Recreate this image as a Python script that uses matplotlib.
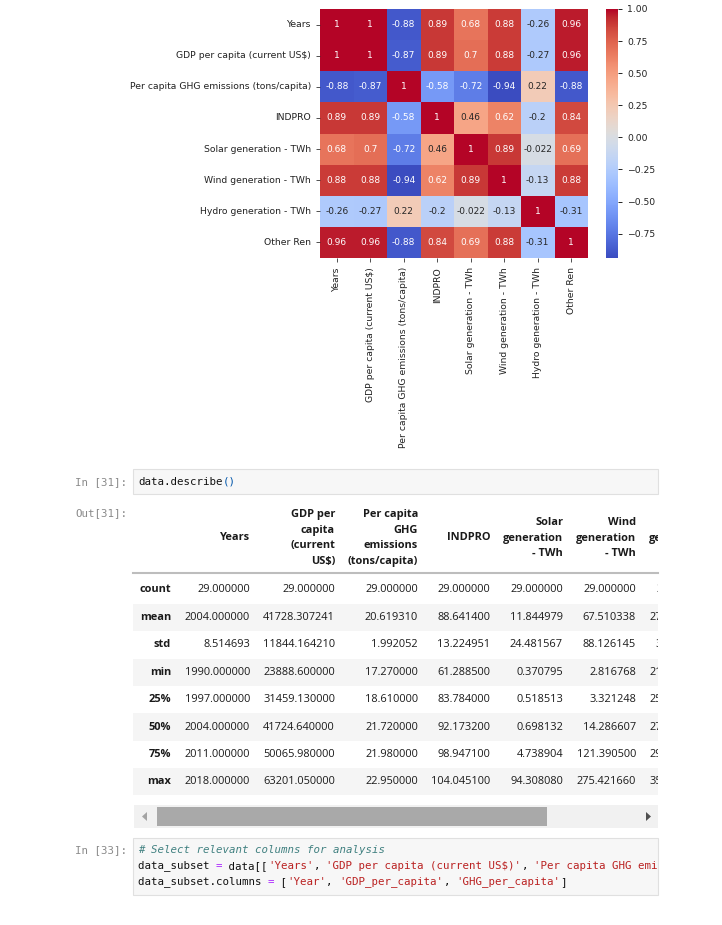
import matplotlib
matplotlib.use('Agg')
import matplotlib.pyplot as plt
import numpy as np
import pandas as pd
import seaborn as sns
from matplotlib.patches import Rectangle, Polygon
from matplotlib.transforms import Bbox, TransformedBbox

# ---------------- data ----------------
corr_labels = ['Years', 'GDP per capita (current US$)', 'Per capita GHG emissions (tons/capita)',
               'INDPRO', 'Solar generation - TWh', 'Wind generation - TWh',
               'Hydro generation - TWh', 'Other Ren']
corr_years = [1, 1, -0.88, 0.89, 0.68, 0.88, -0.26, 0.96]
corr_gdp = [1, 1, -0.87, 0.89, 0.7, 0.88, -0.27, 0.96]
corr_ghg = [-0.88, -0.87, 1, -0.58, -0.72, -0.94, 0.22, -0.88]
corr_indpro = [0.89, 0.89, -0.58, 1, 0.46, 0.62, -0.2, 0.84]
corr_solar = [0.68, 0.7, -0.72, 0.46, 1, 0.89, -0.022, 0.69]
corr_wind = [0.88, 0.88, -0.94, 0.62, 0.89, 1, -0.13, 0.88]
corr_hydro = [-0.26, -0.27, 0.22, -0.2, -0.022, -0.13, 1, -0.31]
corr_other = [0.96, 0.96, -0.88, 0.84, 0.69, 0.88, -0.31, 1]

stat_index = ['count', 'mean', 'std', 'min', '25%', '50%', '75%', 'max']
table_headers = [['Years'], ['GDP per', 'capita', '(current', 'US$)'],
                 ['Per capita', 'GHG', 'emissions', '(tons/capita)'], ['INDPRO'],
                 ['Solar', 'generation', '- TWh'], ['Wind', 'generation', '- TWh'],
                 ['Hydro', 'generation', '- TWh']]
col_years = [29.0, 2004.0, 8.514693, 1990.0, 1997.0, 2004.0, 2011.0, 2018.0]
col_gdp = [29.0, 41728.307241, 11844.164210, 23888.6, 31459.13, 41724.64, 50065.98, 63201.05]
col_ghg = [29.0, 20.619310, 1.992052, 17.27, 18.61, 21.72, 21.98, 22.95]
col_indpro = [29.0, 88.6414, 13.224951, 61.2885, 83.784, 92.1732, 98.9471, 104.0451]
col_solar = [29.0, 11.844979, 24.481567, 0.370795, 0.518513, 0.698132, 4.738904, 94.30808]
col_wind = [29.0, 67.510338, 88.126145, 2.816768, 3.321248, 14.286607, 121.3905, 275.42166]
col_hydro = [29.0, 273.412068, 35.206113, 216.961000, 257.070000, 271.506000, 292.866000, 356.453000]

# ---------------- figure ----------------
W, H = 722, 925
fig = plt.figure(figsize=(W / 100, H / 100), dpi=100)
fig.patch.set_facecolor('white')

bg = fig.add_axes([0, 0, 1, 1], zorder=0)
bg.set_xlim(0, W)
bg.set_ylim(H, 0)
bg.axis('off')
bg.patch.set_alpha(0)

# heatmap
corr = pd.DataFrame([corr_years, corr_gdp, corr_ghg, corr_indpro, corr_solar,
                     corr_wind, corr_hydro, corr_other],
                    index=corr_labels, columns=corr_labels)
hx0, hx1, hy0, hy1 = 320, 588, 9, 258
ax = fig.add_axes([hx0 / W, 1 - hy1 / H, (hx1 - hx0) / W, (hy1 - hy0) / H], zorder=2)
cax = fig.add_axes([606 / W, 1 - hy1 / H, 12 / W, (hy1 - hy0) / H], zorder=2)
sns.heatmap(corr, annot=True, cmap='coolwarm', ax=ax, cbar_ax=cax,
            annot_kws={'size': 6.5})
ax.tick_params(axis='both', labelsize=6.7, length=3, width=0.6, color='#333333',
               labelcolor='#222222')
ax.set_yticklabels(ax.get_yticklabels(), rotation=0)
ax.set_xticklabels(ax.get_xticklabels(), rotation=90)
cax.tick_params(labelsize=6.7, length=3, width=0.6, labelcolor='#222222')

# ---------------- notebook part ----------------
mono = 'DejaVu Sans Mono'
mfs = 7.77
charw = 6.5
sans = 'Open Sans'
tfs = 7.9
prompt_col = '#8a8a8a'
clip = TransformedBbox(Bbox([[133, 0], [658, H]]), bg.transData)


def t(x, y, s, clipit=False, **kw):
    obj = bg.text(x, y, s, va='center', **kw)
    if clipit:
        obj.set_clip_box(clip)
        obj.set_clip_on(True)
    return obj


def code_line(x, y, tokens):
    col = 0
    for s, c, style in tokens:
        t(x + col * charw, y, s, clipit=True, family=mono, fontsize=mfs, color=c,
          style=style, ha='left')
        col += len(s)


# cell 31
t(127, 482, 'In [31]:', family=mono, fontsize=mfs, color=prompt_col, ha='right')
bg.add_patch(Rectangle((133, 469), 525, 25, facecolor='#f7f7f7', edgecolor='#e0e0e0', lw=0.8))
code_line(138, 482, [('data.describe', '#111111', 'normal'), ('()', '#0055aa', 'normal')])
t(127, 513, 'Out[31]:', family=mono, fontsize=mfs, color=prompt_col, ha='right')

# table
col_right = [250, 335, 418, 490, 563, 636, 709]
index_right = 171
row_y0, row_h = 590, 27.4
columns = [col_years, col_gdp, col_ghg, col_indpro, col_solar, col_wind, col_hydro]
for i, name in enumerate(stat_index):
    y = row_y0 + i * row_h
    if i % 2 == 1:
        bg.add_patch(Rectangle((133, y - row_h / 2), 525, row_h, facecolor='#f5f5f5',
                               edgecolor='none'))
    t(index_right, y, name, family=sans, fontsize=tfs, weight='bold', color='#1a1a1a', ha='right')
    for xr, colv in zip(col_right, columns):
        t(xr, y, '%.6f' % colv[i], clipit=True, family=sans, fontsize=tfs, color='#1a1a1a', ha='right')

for xr, lines in zip(col_right, table_headers):
    n = len(lines)
    for j, ln in enumerate(lines):
        y = 538 + (j - (n - 1) / 2) * 15.4
        t(xr, y, ln, clipit=True, family=sans, fontsize=tfs, weight='bold', color='#1a1a1a', ha='right')
bg.plot([133, 658], [573, 573], color='#bdbdbd', lw=1.5)

# scrollbar
bg.add_patch(Rectangle((134, 805), 524, 23, facecolor='#f1f1f1', edgecolor='none'))
bg.add_patch(Rectangle((157, 807), 390, 19, facecolor='#a9a9a9', edgecolor='none'))
bg.add_patch(Polygon([[147, 812], [147, 821], [142, 816.5]], closed=True, facecolor='#a3a3a3', edgecolor='none'))
bg.add_patch(Polygon([[646, 812], [646, 821], [651, 816.5]], closed=True, facecolor='#505050', edgecolor='none'))

# cell 33
t(127, 850, 'In [33]:', family=mono, fontsize=mfs, color=prompt_col, ha='right')
bg.add_patch(Rectangle((133, 838), 525, 57, facecolor='#f7f7f7', edgecolor='#e0e0e0', lw=0.8))
str_c, op_c, com_c, txt_c = '#ba2121', '#aa22ff', '#408080', '#111111'
code_line(138, 850, [('# Select relevant columns for analysis', com_c, 'italic')])
code_line(138, 866, [('data_subset ', txt_c, 'normal'), ('=', op_c, 'normal'),
                     (' data[[', txt_c, 'normal'), ("'Years'", str_c, 'normal'),
                     (', ', txt_c, 'normal'), ("'GDP per capita (current US$)'", str_c, 'normal'),
                     (', ', txt_c, 'normal'), ("'Per capita GHG emissions (tons/capita)'", str_c, 'normal')])
code_line(138, 882, [('data_subset.columns ', txt_c, 'normal'), ('=', op_c, 'normal'),
                     (' [', txt_c, 'normal'), ("'Year'", str_c, 'normal'), (', ', txt_c, 'normal'),
                     ("'GDP_per_capita'", str_c, 'normal'), (', ', txt_c, 'normal'),
                     ("'GHG_per_capita'", str_c, 'normal'), (']', txt_c, 'normal')])

fig.savefig('out.png', dpi=100, facecolor='white')
